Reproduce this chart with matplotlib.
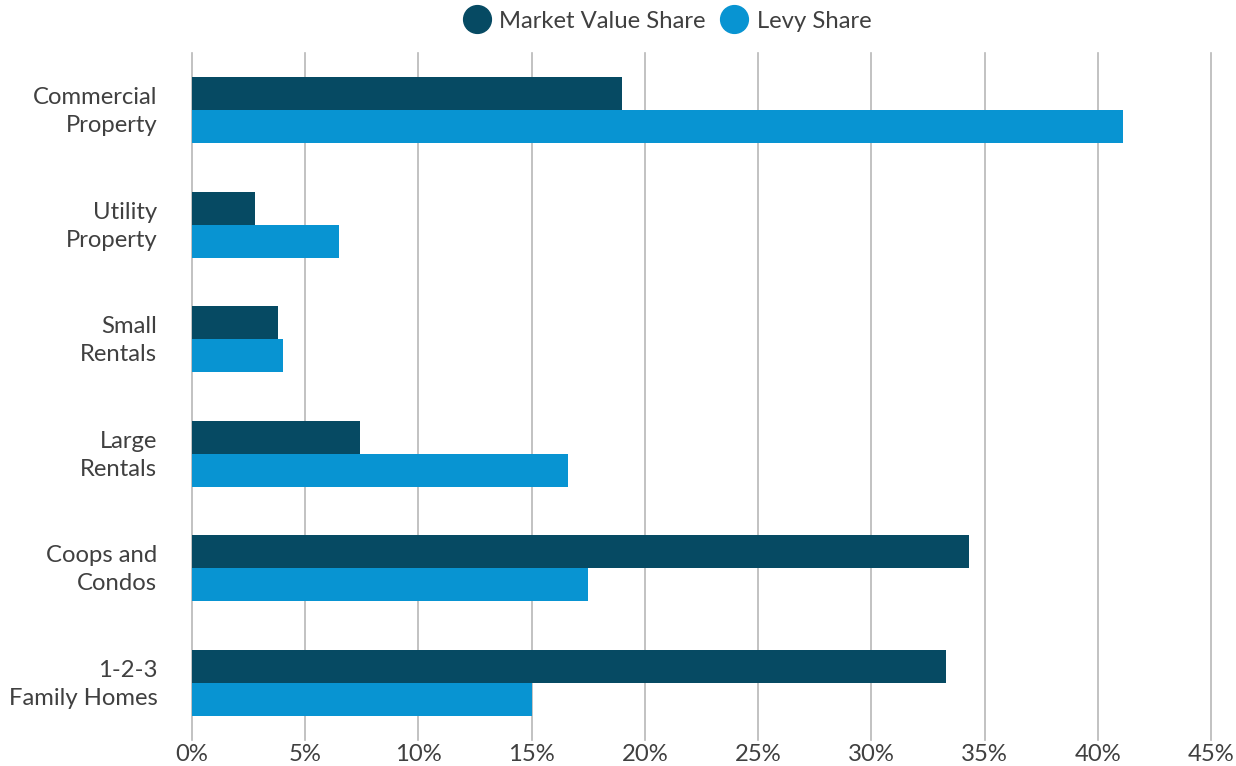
"""Market value share vs levy share by property type."""

import matplotlib
matplotlib.use("Agg")
import matplotlib.pyplot as plt
import matplotlib.transforms as mtransforms
from matplotlib.lines import Line2D
from matplotlib.ticker import FuncFormatter
import numpy as np

# Data (percent of total)
categories = ["Commercial\nProperty", "Utility\nProperty", "Small\nRentals",
              "Large\nRentals", "Coops and\nCondos", "1-2-3\nFamily Homes"]
market_value_share = [19.0, 2.8, 3.8, 7.4, 34.3, 33.3]
levy_share = [41.1, 6.5, 4.0, 16.6, 17.5, 15.0]
x_ticks = [0, 5, 10, 15, 20, 25, 30, 35, 40, 45]

DARK = "#064A63"
LIGHT = "#0894D2"
TEXT = "#404040"
GRID = "#b8b8b8"
FS = 17.2

plt.rcParams['font.family'] = ['Lato', 'DejaVu Sans']

fig = plt.figure(figsize=(12.36, 7.66), dpi=100)
ax = fig.add_axes([192 / 1236, 1 - 740 / 766, (1211 - 192) / 1236, (740 - 53) / 766])

y = np.arange(len(categories))
h = 0.288

# Bars, market value above levy within each band
ax.barh(y - h / 2, market_value_share, height=h, color=DARK, zorder=3)
ax.barh(y + h / 2, levy_share, height=h, color=LIGHT, zorder=3)

# Axes, ticks and grid
ax.set_xlim(0, 45)
ax.set_ylim(len(categories) - 0.5, -0.5)
ax.set_xticks(x_ticks)
ax.xaxis.set_major_formatter(FuncFormatter(lambda v, _: '{:.0f}%'.format(v)))
ax.set_yticks(y)
ax.set_yticklabels(categories, linespacing=1.4)
ax.tick_params(axis='both', length=0, labelsize=FS, labelcolor=TEXT)
ax.tick_params(axis='y', pad=25)
ax.tick_params(axis='x', pad=3)

# Nudge category labels up a few pixels
shift = mtransforms.ScaledTranslation(0, 4 / 100, fig.dpi_scale_trans)
for lab in ax.get_yticklabels():
    lab.set_transform(lab.get_transform() + shift)

ax.grid(axis='x', color=GRID, linewidth=1.2, zorder=0)
for gl in ax.get_xgridlines():
    gl.set_clip_on(False)
for spine in ax.spines.values():
    spine.set_visible(False)

# Legend with round markers, top of figure
handles = [Line2D([], [], marker='o', linestyle='none', markersize=20,
                  markerfacecolor=c, markeredgecolor=c) for c in (DARK, LIGHT)]
fig.legend(handles, ["Market Value Share", "Levy Share"],
           loc='center', bbox_to_anchor=(667 / 1236, 1 - 21 / 766), ncol=2,
           frameon=False, fontsize=FS, labelcolor=TEXT,
           handletextpad=0.35, columnspacing=0.6, handlelength=1.2)

fig.savefig("out.png", dpi=100)
